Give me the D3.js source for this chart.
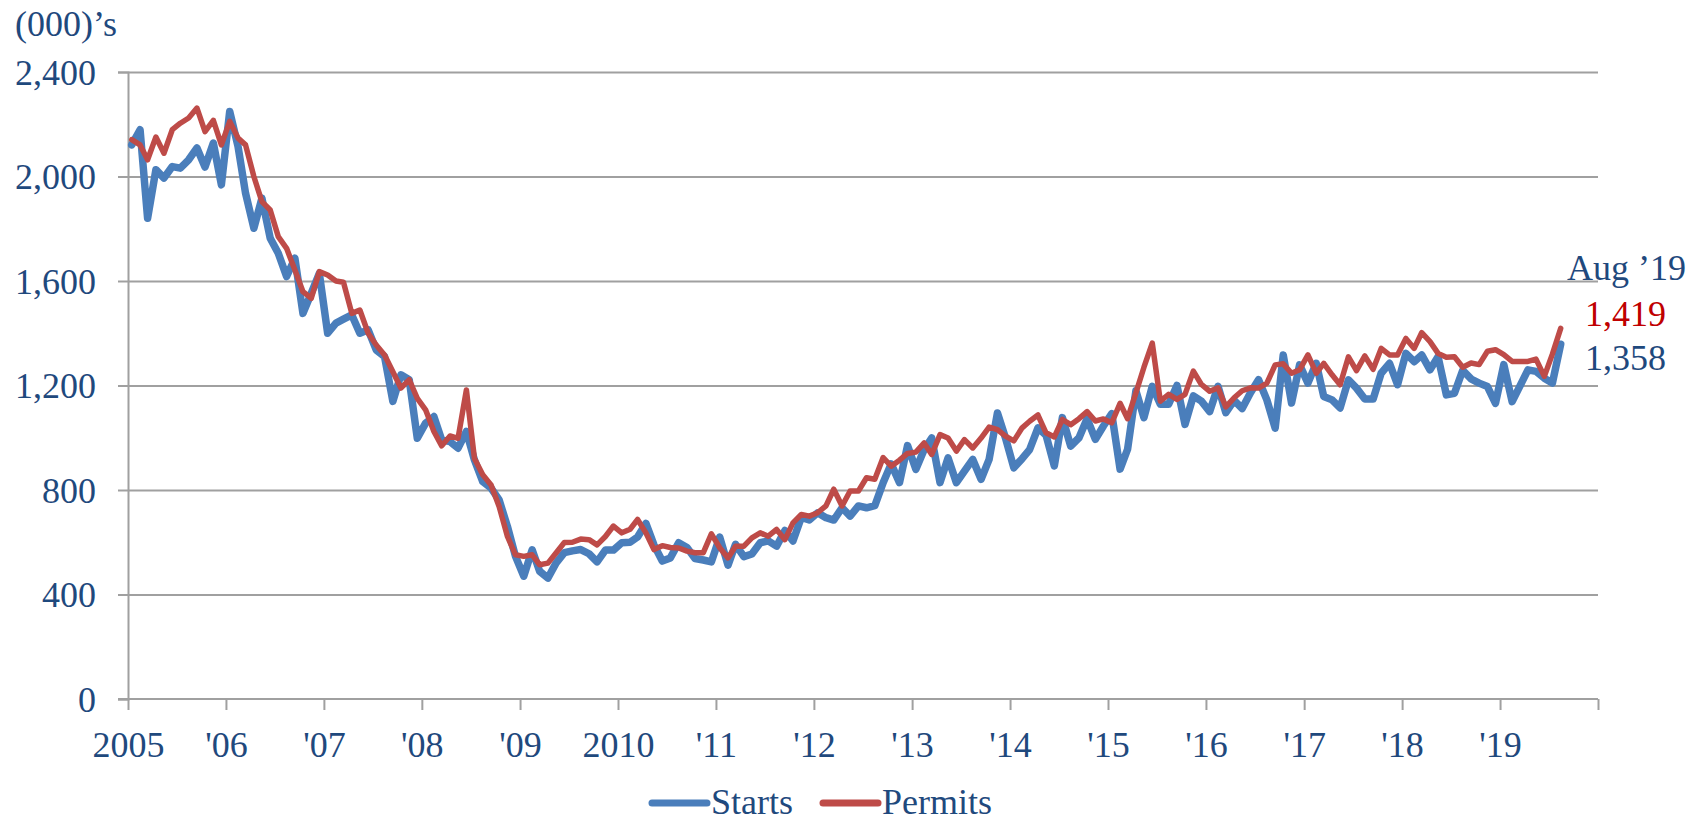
<!DOCTYPE html>
<html>
<head>
<meta charset="utf-8">
<script src="https://cdn.jsdelivr.net/npm/d3@7"></script>
<style>
  body { margin: 0; background: #fff; }
  svg { display: block; font-family: "Liberation Serif", "Times New Roman", serif; }
</style>
</head>
<body>
<svg width="1707" height="823"></svg>
<script>
// monthly, Jan 2005 .. Aug 2019, thousands (SAAR)
let startsValues = [
  2121, 2179, 1840, 2026, 1994, 2038, 2032, 2064, 2109, 2036, 2128, 1968,
  2249, 2115, 1936, 1802, 1917, 1764, 1706, 1617, 1687, 1476, 1553, 1629,
  1400, 1439, 1454, 1470, 1400, 1413, 1336, 1311, 1139, 1241, 1222, 998,
  1056, 1081, 992, 985, 960, 1024, 915, 832, 807, 762, 660, 546,
  470, 571, 489, 463, 520, 560, 567, 572, 556, 525, 570, 570,
  598, 600, 620, 672, 590, 528, 540, 598, 580, 538, 532, 525,
  620, 512, 592, 545, 555, 598, 605, 585, 645, 605, 695, 685,
  713, 694, 685, 732, 700, 739, 732, 740, 828, 900, 828, 970,
  879, 955, 999, 828, 923, 828, 872, 917, 841, 917, 1095, 999,
  885, 920, 955, 1038, 1010, 892, 1077, 968, 1000, 1073, 994, 1045,
  1092, 880, 956, 1180, 1077, 1197, 1128, 1128, 1200, 1051, 1160, 1140,
  1100, 1197, 1096, 1143, 1112, 1172, 1222, 1145, 1037, 1317, 1133, 1279,
  1209, 1285, 1158, 1145, 1114, 1222, 1190, 1148, 1148, 1247, 1285, 1203,
  1323, 1291, 1317, 1260, 1310, 1164, 1170, 1258, 1225, 1209, 1196, 1132,
  1280, 1138, 1196, 1260, 1254, 1228, 1209, 1358
];

let permitsValues = [
  2141, 2121, 2064, 2151, 2089, 2179, 2204, 2224, 2262, 2172, 2215, 2121,
  2211, 2147, 2121, 2000, 1904, 1872, 1770, 1725, 1642, 1559, 1534, 1636,
  1623, 1600, 1595, 1476, 1489, 1400, 1355, 1317, 1253, 1190, 1222, 1151,
  1107, 1024, 969, 1007, 998, 1183, 921, 858, 819, 737, 622, 552,
  546, 552, 514, 520, 559, 599, 600, 612, 610, 590, 622, 662,
  636, 650, 687, 636, 572, 587, 580, 578, 566, 560, 560, 632,
  579, 540, 585, 585, 617, 636, 623, 649, 610, 674, 706, 700,
  713, 739, 803, 739, 796, 796, 847, 841, 924, 891, 914, 940,
  945, 980, 936, 1012, 999, 949, 993, 961, 999, 1041, 1031, 1006,
  988, 1038, 1063, 1087, 1019, 1003, 1070, 1050, 1073, 1100, 1064, 1072,
  1057, 1132, 1073, 1172, 1270, 1362, 1140, 1166, 1147, 1166, 1255, 1204,
  1178, 1191, 1118, 1153, 1180, 1191, 1190, 1209, 1279, 1283, 1247, 1260,
  1317, 1247, 1285, 1241, 1203, 1310, 1257, 1313, 1262, 1342, 1317, 1317,
  1380, 1342, 1402, 1368, 1323, 1308, 1310, 1270, 1286, 1280, 1331, 1337,
  1318, 1292, 1292, 1292, 1301, 1235, 1320, 1419
];

let yTicks = [0, 400, 800, 1200, 1600, 2000, 2400];
let yearTicks = [2005, 2006, 2007, 2008, 2009, 2010, 2011, 2012, 2013, 2014, 2015, 2016, 2017, 2018, 2019, 2020];
let yearLabels = ["2005", "'06", "'07", "'08", "'09", "2010", "'11", "'12", "'13", "'14", "'15", "'16", "'17", "'18", "'19", ""];
let seriesNames = ["Starts", "Permits"];
let lastLabel = "Aug \u201919";

let textColor = "#1F497D";
let gridColor = "#a0a0a0";
let colors = ["#4A7EBB", "#BE4B48"];

let pLeft = 128, pRight = 1598, pTop = 72, pBottom = 699;

let svg = d3.select("svg");

let months = startsValues.map((v, i) => new Date(2005, i, 15));

let xScale = d3.scaleTime()
    .domain([new Date(2005, 0, 1), new Date(2020, 0, 1)])
    .range([pLeft, pRight]);

let yScale = d3.scaleLinear()
    .domain([0, 2400])
    .range([pBottom, pTop]);

// gridlines
svg.append("g")
    .attr("transform", "translate(" + pLeft + ",0)")
    .call(d3.axisRight(yScale).tickValues(yTicks.slice(1)).tickSize(pRight - pLeft).tickFormat(""))
    .call(g => g.select(".domain").remove())
    .call(g => g.selectAll("line").attr("stroke", gridColor).attr("stroke-width", 2));

// y axis
let yAxis = d3.axisLeft(yScale)
    .tickValues(yTicks)
    .tickSize(10)
    .tickPadding(22)
    .tickFormat(d3.format(","));
svg.append("g")
    .attr("id", "y-axis")
    .attr("transform", "translate(" + pLeft + ",0)")
    .call(yAxis)
    .call(g => g.select(".domain").attr("stroke", gridColor).attr("stroke-width", 2))
    .call(g => g.selectAll("line").attr("stroke", gridColor).attr("stroke-width", 2))
    .call(g => g.selectAll("text")
        .attr("fill", textColor)
        .style("font-size", "36px")
        .attr("font-family", "Liberation Serif, serif")
        .attr("dy", "0.34em"));

// x axis
let xAxis = d3.axisBottom(xScale)
    .tickValues(yearTicks.map(y => new Date(y, 0, 1)))
    .tickSize(11)
    .tickFormat((d, i) => yearLabels[i]);
svg.append("g")
    .attr("id", "x-axis")
    .attr("transform", "translate(0," + pBottom + ")")
    .call(xAxis)
    .call(g => g.select(".domain").attr("stroke", gridColor).attr("stroke-width", 2)
        .attr("d", "M" + (pLeft - 10) + ",0H" + pRight))
    .call(g => g.selectAll("line").attr("stroke", gridColor).attr("stroke-width", 2))
    .call(g => g.selectAll("text")
        .attr("fill", textColor)
        .style("font-size", "36px")
        .attr("font-family", "Liberation Serif, serif")
        .attr("y", 58)
        .attr("dy", 0));

// units label
svg.append("text")
    .attr("x", 15)
    .attr("y", 36)
    .attr("fill", textColor)
    .style("font-size", "36px")
    .text("(000)\u2019s");

let line = d3.line()
    .x((d, i) => xScale(months[i]))
    .y(d => yScale(d));

[startsValues, permitsValues].forEach((vals, k) => {
    svg.append("path")
        .datum(vals)
        .attr("fill", "none")
        .attr("stroke", colors[k])
        .attr("stroke-width", k == 0 ? 7.5 : 5.5)
        .attr("stroke-linejoin", "round")
        .attr("stroke-linecap", "round")
        .attr("d", line);
});

// end labels
let lastIdx = startsValues.length - 1;
svg.append("text")
    .attr("x", 1567)
    .attr("y", 280)
    .attr("fill", textColor)
    .style("font-size", "36px")
    .text(lastLabel);
svg.append("text")
    .attr("x", 1585)
    .attr("y", 326)
    .attr("fill", "#C00000")
    .style("font-size", "36px")
    .text(d3.format(",")(permitsValues[lastIdx]));
svg.append("text")
    .attr("x", 1585)
    .attr("y", 370)
    .attr("fill", textColor)
    .style("font-size", "36px")
    .text(d3.format(",")(startsValues[lastIdx]));

// legend (kept just inside the bottom edge)
let legendX = [652, 823];
seriesNames.forEach((name, k) => {
    svg.append("line")
        .attr("x1", legendX[k])
        .attr("x2", legendX[k] + 55)
        .attr("y1", 803)
        .attr("y2", 803)
        .attr("stroke", colors[k])
        .attr("stroke-width", 7)
        .attr("stroke-linecap", "round");
    svg.append("text")
        .attr("x", legendX[k] + 59)
        .attr("y", 814)
        .attr("fill", textColor)
        .style("font-size", "36px")
        .text(name);
});
</script>
</body>
</html>
